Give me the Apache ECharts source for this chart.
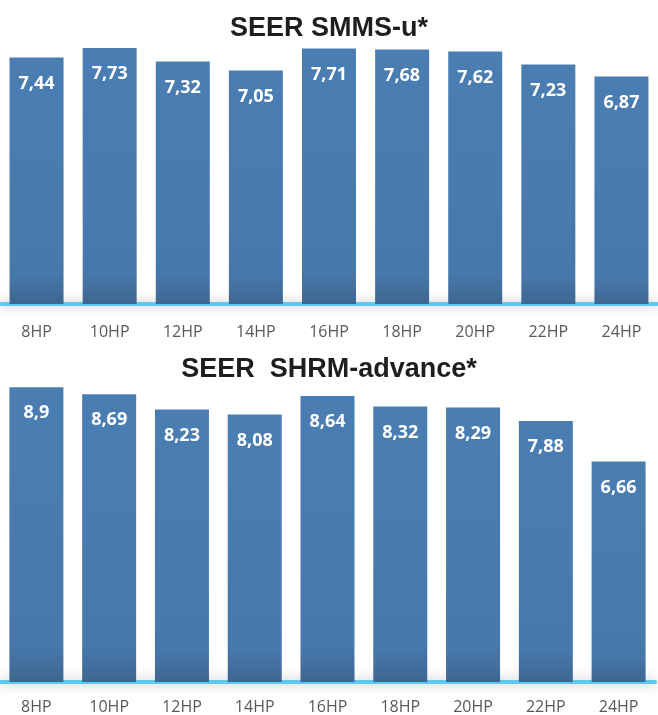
<!DOCTYPE html>
<html>
<head>
<meta charset="utf-8">
<script src="https://cdn.jsdelivr.net/npm/echarts@6/dist/echarts.min.js"></script>
<style>
    html, body { margin: 0; padding: 0; background: #fff; }
    #chart-container { width: 658px; height: 715px; }
</style>
</head>
<body>
<div id="chart-container"></div>
<script>
var categories = ['8HP', '10HP', '12HP', '14HP', '16HP', '18HP', '20HP', '22HP', '24HP'];
var smmsValues = [7.44, 7.73, 7.32, 7.05, 7.71, 7.68, 7.62, 7.23, 6.87];
var shrmValues = [8.9, 8.69, 8.23, 8.08, 8.64, 8.32, 8.29, 7.88, 6.66];
var titles = ['SEER SMMS-u*', 'SEER  SHRM-advance*'];

(function () {
    var domChart = document.getElementById('chart-container');
    var ioChart = echarts.init(domChart, null, { renderer: 'canvas' });

    var barColor = new echarts.graphic.LinearGradient(0, 0, 0, 1, [
        { offset: 0, color: '#4a7eb3' },
        { offset: 0.88, color: '#4778ab' },
        { offset: 1, color: '#3e6690' }
    ]);

    function makeX(idx, margin) {
        return {
            type: 'category',
            gridIndex: idx,
            data: categories,
            offset: 2,
            axisTick: { show: false },
            axisLine: {
                show: true,
                lineStyle: {
                    color: '#5ec9f0',
                    width: 4,
                    shadowColor: 'rgba(0,0,0,0.3)',
                    shadowBlur: 12
                }
            },
            axisLabel: {
                color: '#595959',
                fontSize: 16,
                fontFamily: 'Open Sans',
                margin: margin
            }
        };
    }
    function makeY(idx, max) {
        return {
            type: 'value',
            gridIndex: idx,
            min: 0,
            max: max,
            show: false,
            splitLine: { show: false }
        };
    }
    function makeSeries(idx, data) {
        return {
            type: 'bar',
            xAxisIndex: idx,
            yAxisIndex: idx,
            data: data,
            barWidth: 54,
            itemStyle: { color: barColor },
            label: {
                show: true,
                position: 'insideTop',
                distance: 17,
                color: '#ffffff',
                fontSize: 18,
                fontWeight: 'bold',
                fontFamily: 'Open Sans',
                formatter: function (p) {
                    return String(p.value).replace('.', ',');
                }
            }
        };
    }

    var chartOption = {
        backgroundColor: '#ffffff',
        animation: false,
        title: [
            {
                text: titles[0],
                left: 'center',
                top: 10,
                textStyle: { fontFamily: 'Liberation Sans', fontWeight: 'bold', fontSize: 27, color: '#1e1e1e' }
            },
            {
                text: titles[1],
                left: 'center',
                top: 351,
                textStyle: { fontFamily: 'Liberation Sans', fontWeight: 'bold', fontSize: 27, color: '#1e1e1e' }
            }
        ],
        grid: [
            { left: 0, right: 0, top: 39, height: 265 },
            { left: -5, right: 3, top: 384, height: 299 }
        ],
        xAxis: [makeX(0, 18), makeX(1, 15)],
        yAxis: [makeY(0, 8), makeY(1, 9)],
        series: [makeSeries(0, smmsValues), makeSeries(1, shrmValues)]
    };
    ioChart.setOption(chartOption);
})();
</script>
</body>
</html>
